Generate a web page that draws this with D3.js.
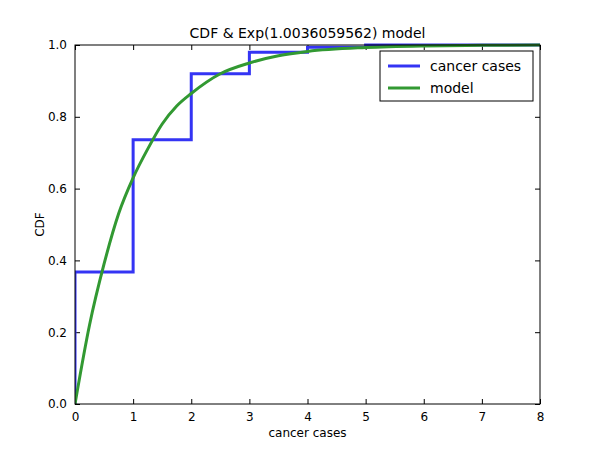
<!DOCTYPE html>
<html><head><meta charset="utf-8">
<script src="https://cdn.jsdelivr.net/npm/d3@7"></script>
<style>body{margin:0;background:#fff}text{font-family:"DejaVu Sans",sans-serif}</style>
</head><body><div class="svg-wrap"></div>
<script>
// step CDF of cancer cases
const stepX = [0, 0, 1, 1, 2, 2, 3, 3, 4, 4, 5, 5, 8];
const stepY = [0, 0.368, 0.368, 0.736, 0.736, 0.92, 0.92, 0.98, 0.98, 0.994, 0.994, 1.0, 1.0];
// model curve
const modelX = [0, 0.25, 0.5, 0.75, 1, 1.25, 1.5, 1.75, 2, 2.5, 3, 3.5, 4, 5, 6, 7, 8];
const modelY = [0, 0.22, 0.39, 0.53, 0.63, 0.71, 0.78, 0.83, 0.865, 0.92, 0.95, 0.97, 0.982, 0.993, 0.9975, 0.999, 1.0];
const xTicks = [0, 1, 2, 3, 4, 5, 6, 7, 8];
const yTicks = [0, 0.2, 0.4, 0.6, 0.8, 1.0];

const mLeft = 75, mRight = 540, mTop = 45, mBottom = 404;
const svg = d3.select(".svg-wrap").append("svg").attr("width", 600).attr("height", 450);

const x = d3.scaleLinear().domain([0, 8]).range([mLeft, mRight]);
const y = d3.scaleLinear().domain([0, 1]).range([mBottom, mTop]);

svg.append("g").attr("transform", `translate(0,${mBottom})`)
  .call(d3.axisBottom(x).tickValues(xTicks).tickFormat(d3.format("d")).tickSizeInner(-5).tickSizeOuter(0).tickPadding(8));
svg.append("g").attr("transform", `translate(0,${mTop})`)
  .call(d3.axisTop(x).tickValues(xTicks).tickFormat("").tickSizeInner(-5).tickSizeOuter(0));
svg.append("g").attr("transform", `translate(${mLeft},0)`)
  .call(d3.axisLeft(y).tickValues(yTicks).tickFormat(d3.format(".1f")).tickSizeInner(-5).tickSizeOuter(0).tickPadding(8));
svg.append("g").attr("transform", `translate(${mRight},0)`)
  .call(d3.axisRight(y).tickValues(yTicks).tickFormat("").tickSizeInner(-5).tickSizeOuter(0));
svg.selectAll(".domain").remove();
svg.selectAll(".tick text").style("font-size", "12px").attr("fill", "#000");

svg.append("clipPath").attr("id", "c").append("rect")
  .attr("x", mLeft).attr("y", mTop - 2).attr("width", mRight - mLeft).attr("height", mBottom - mTop + 4);

svg.append("path").attr("clip-path", "url(#c)")
  .datum(stepX.map((d, i) => [d, stepY[i]]))
  .attr("d", d3.line().x(d => x(d[0])).y(d => y(d[1])))
  .attr("fill", "none").attr("stroke", "#3434f4").attr("stroke-width", 3);
svg.append("path").attr("clip-path", "url(#c)")
  .datum(modelX.map((d, i) => [d, modelY[i]]))
  .attr("d", d3.line().curve(d3.curveMonotoneX).x(d => x(d[0])).y(d => y(d[1])))
  .attr("fill", "none").attr("stroke", "#329932").attr("stroke-width", 3);

svg.append("rect").attr("x", mLeft).attr("y", mTop).attr("width", mRight - mLeft).attr("height", mBottom - mTop)
  .attr("fill", "none").attr("stroke", "#000");

svg.append("text").attr("x", (mLeft + mRight) / 2).attr("y", 38).attr("text-anchor", "middle")
  .style("font-size", "14px").text("CDF & Exp(1.0036059562) model");
svg.append("text").attr("x", (mLeft + mRight) / 2).attr("y", 437).attr("text-anchor", "middle")
  .style("font-size", "12px").text("cancer cases");
svg.append("text").attr("transform", "rotate(-90)").attr("x", -(mTop + mBottom) / 2).attr("y", 44)
  .attr("text-anchor", "middle").style("font-size", "12px").text("CDF");

const lg = svg.append("g");
lg.append("rect").attr("x", 380).attr("y", 51).attr("width", 153).attr("height", 50)
  .attr("fill", "#fff").attr("stroke", "#000");
[["cancer cases", "#3434f4"], ["model", "#329932"]].forEach((d, i) => {
  const yy = 66 + i * 22;
  lg.append("line").attr("x1", 388).attr("x2", 420).attr("y1", yy).attr("y2", yy)
    .attr("stroke", d[1]).attr("stroke-width", 3);
  lg.append("text").attr("x", 430).attr("y", yy + 5).style("font-size", "14px").text(d[0]);
});
</script></body></html>
